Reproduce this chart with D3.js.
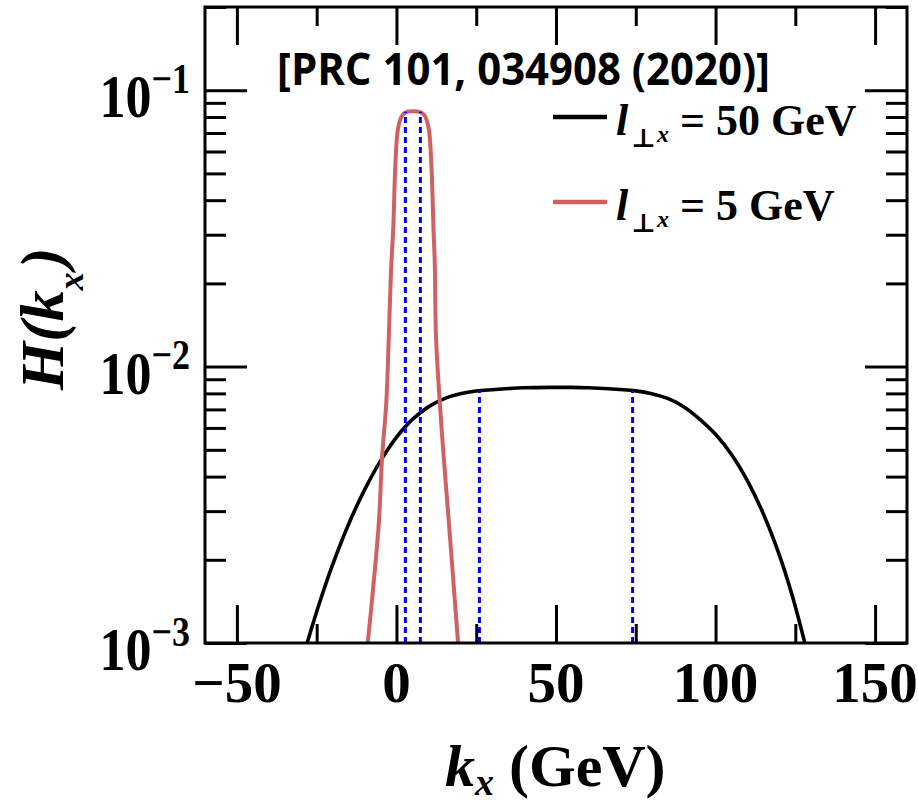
<!DOCTYPE html>
<html>
<head>
<meta charset="utf-8">
<script src="https://cdn.jsdelivr.net/npm/d3@7"></script>
<style>
  html, body { margin: 0; padding: 0; background: #fff; }
  svg { display: block; }
  .serif { font-family: "Liberation Serif", "DejaVu Serif", serif; font-weight: bold; }
</style>
</head>
<body>
<svg id="chart" width="918" height="803"></svg>
<script>
// H(k_x) for two values of l_perp,x
const blackK = [-28, -24, -20, -15, -10, -5, 0, 5, 10, 15, 20, 25, 30, 40, 50, 55, 60, 70, 75, 80, 85, 90, 95, 100, 105, 110, 115, 120, 124, 128];
const blackH = [0.00100, 0.00141, 0.00192, 0.00269, 0.00358, 0.00456, 0.00555, 0.00644, 0.00715, 0.00766, 0.00797, 0.00816, 0.00825, 0.00838, 0.00841, 0.00841, 0.00838, 0.00826, 0.00817, 0.00798, 0.00767, 0.00716, 0.00646, 0.00569, 0.00481, 0.00386, 0.00293, 0.00208, 0.00149, 0.00100];

const redK = [-9.0, -7.3, -5.5, -4.5, -3.2, -2.4, -1.7, -1.0, -0.3, 0.5, 1.8, 3.5, 5.2, 7.0, 8.8, 10.1, 10.9, 11.3, 11.6, 12.0, 12.4, 13.6, 14.8, 16.4, 18.0, 19.3];
const redH = [0.00100, 0.00158, 0.00275, 0.00472, 0.00736, 0.0128, 0.0223, 0.0317, 0.0551, 0.0728, 0.0811, 0.0836, 0.0839, 0.0836, 0.0811, 0.0728, 0.0551, 0.0417, 0.0317, 0.0239, 0.0128, 0.00736, 0.00472, 0.00275, 0.00158, 0.00100];

// vertical marker lines: position and height
const markerK = [2.8, 7.5, 26, 74];
const markerH = [0.0835, 0.0835, 0.00818, 0.00818];

const xMajor = [-50, 0, 50, 100, 150];
const xMinor = [-25, 25, 75, 125];
const xLabels = ["\u221250", "0", "50", "100", "150"];
const yMajor = [1e-3, 1e-2, 1e-1];
const yExp = ["\u22123", "\u22122", "\u22121"];
const yMinor = [0.002, 0.003, 0.004, 0.005, 0.006, 0.007, 0.008, 0.009,
                0.02, 0.03, 0.04, 0.05, 0.06, 0.07, 0.08, 0.09, 0.2];

const legendValues = ["50", "5"];
const seriesColors = ["#000000", "#d16060"];

const svg = d3.select("#chart");
const W = 918, H = 803;
const margin = {left: 205, top: 7, right: 11, bottom: 160};
const x0 = margin.left, x1 = W - margin.right, y0 = margin.top, y1 = H - margin.bottom;

const x = d3.scaleLinear().domain([-60, 160]).range([x0, x1]);
const y = d3.scaleLog().domain([1e-3, 0.2]).range([y1, y0]);

svg.append("defs").append("clipPath").attr("id", "plotclip")
  .append("rect").attr("x", x0).attr("y", y0).attr("width", x1 - x0).attr("height", y1 - y0);

// ticks (inward) on all four sides
function tickAxis(axis, tr, vals, size) {
  const g = svg.append("g").attr("transform", tr)
    .call(axis.tickValues(vals).tickSizeInner(size).tickSizeOuter(0).tickFormat(""));
  g.select(".domain").remove();
  g.selectAll(".tick line").attr("stroke", "#000").attr("stroke-width", 3);
  return g;
}
tickAxis(d3.axisBottom(x), `translate(0,${y1})`, xMajor, -38);
tickAxis(d3.axisBottom(x), `translate(0,${y1})`, xMinor, -19);
tickAxis(d3.axisTop(x), `translate(0,${y0})`, xMajor, -38);
tickAxis(d3.axisTop(x), `translate(0,${y0})`, xMinor, -19);
tickAxis(d3.axisLeft(y), `translate(${x0},0)`, yMajor, -42);
tickAxis(d3.axisLeft(y), `translate(${x0},0)`, yMinor, -21);
tickAxis(d3.axisRight(y), `translate(${x1},0)`, yMajor, -42);
tickAxis(d3.axisRight(y), `translate(${x1},0)`, yMinor, -21);

// curves
const line = d3.line().x(d => x(d[0])).y(d => y(d[1])).curve(d3.curveCatmullRom.alpha(0.5));
const plot = svg.append("g").attr("clip-path", "url(#plotclip)");
plot.append("path").datum(d3.zip(blackK, blackH))
  .attr("d", line).attr("fill", "none").attr("stroke", seriesColors[0]).attr("stroke-width", 3.6);
plot.append("path").datum(d3.zip(redK, redH))
  .attr("d", line).attr("fill", "none").attr("stroke", seriesColors[1]).attr("stroke-width", 4);

// dotted markers
plot.selectAll("line.marker").data(d3.zip(markerK, markerH)).join("line")
  .attr("class", "marker")
  .attr("x1", d => x(d[0])).attr("x2", d => x(d[0]))
  .attr("y1", y(1e-3)).attr("y2", d => y(d[1]))
  .attr("stroke", "#0000ff").attr("stroke-width", 3).attr("stroke-dasharray", "6,4");

// frame
svg.append("rect").attr("x", x0).attr("y", y0).attr("width", x1 - x0).attr("height", y1 - y0)
  .attr("fill", "none").attr("stroke", "#000").attr("stroke-width", 3);

// x tick labels
svg.selectAll("text.xlab").data(d3.zip(xMajor, xLabels)).join("text")
  .attr("class", "xlab serif")
  .attr("x", d => x(d[0])).attr("y", 702)
  .attr("text-anchor", "middle").attr("font-size", 57)
  .text(d => d[1]);

// y tick labels 10^n
const ylab = svg.selectAll("g.ylab").data(d3.zip(yMajor, yExp)).join("g")
  .attr("class", "ylab")
  .attr("transform", d => `translate(190,${y(d[0]) + 27}) scale(1,1.18)`);
const yt = ylab.append("text").attr("class", "serif").attr("text-anchor", "end").attr("font-size", 52);
yt.append("tspan").text("10");
yt.append("tspan").attr("font-size", 36).attr("dy", -20.5).text(d => d[1]);

// axis titles
const xt = svg.append("text").attr("class", "serif").attr("x", 445).attr("y", 786).attr("font-size", 60);
xt.append("tspan").attr("font-style", "italic").text("k");
xt.append("tspan").attr("font-style", "italic").attr("font-size", 38).attr("dy", 9).text("x");
xt.append("tspan").attr("dy", -9).text(" (GeV)");

const ytl = svg.append("text").attr("class", "serif").attr("font-size", 62)
  .attr("transform", "translate(63,390) rotate(-90)").attr("font-style", "italic");
ytl.append("tspan").text("H(k");
ytl.append("tspan").attr("font-size", 36).attr("dy", 20).text("x");
ytl.append("tspan").attr("dy", -20).attr("dx", 4).text(")");

// reference label
svg.append("text").attr("x", 277).attr("y", 85)
  .attr("font-family", "'Open Sans', 'Noto Sans', sans-serif").attr("font-weight", 700)
  .attr("font-size", 44).attr("textLength", 493).attr("lengthAdjust", "spacingAndGlyphs")
  .text("[PRC 101, 034908 (2020)]");

// legend
const legRows = [135, 220];
const leg = svg.selectAll("g.leg").data(d3.zip(legendValues, seriesColors)).join("g")
  .attr("class", "leg")
  .attr("transform", (d, i) => `translate(0,${legRows[i]})`);
leg.append("line").attr("x1", 553).attr("x2", 607).attr("y1", -18).attr("y2", -18)
  .attr("stroke", d => d[1]).attr("stroke-width", 4.5);
leg.append("text").attr("class", "serif").attr("x", 616).attr("y", 0)
  .attr("font-size", 44).attr("font-style", "italic").text("l");
leg.append("text").attr("class", "serif").attr("x", 631).attr("y", 12)
  .attr("font-size", 26).text("\u22a5");
leg.append("text").attr("class", "serif").attr("x", 657).attr("y", 7)
  .attr("font-size", 24).attr("font-style", "italic").text("x");
leg.append("text").attr("class", "serif").attr("x", 680).attr("y", 0)
  .attr("font-size", 44).text(d => "= " + d[0] + " GeV");
</script>
</body>
</html>
